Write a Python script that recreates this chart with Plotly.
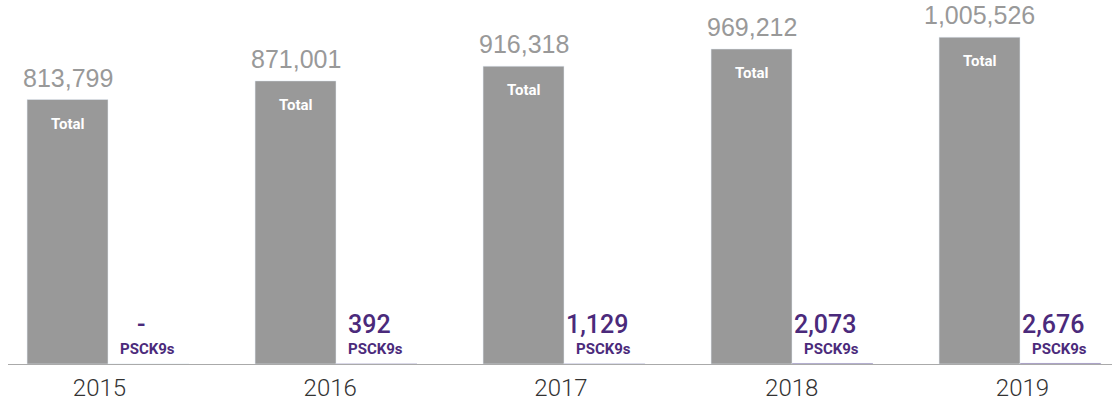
import plotly.graph_objects as go

years = ["2015", "2016", "2017", "2018", "2019"]
total = [813799, 871001, 916318, 969212, 1005526]
psck9s = [0, 392, 1129, 2073, 2676]
total_labels = ["813,799", "871,001", "916,318", "969,212", "1,005,526"]
psck9s_labels = ["-", "392", "1,129", "2,073", "2,676"]

GRAY = "#999999"
PURPLE = "#4B2A7B"
BARGAP = 0.29
half = (1 - BARGAP) / 4  # offset of each bar centre from the category centre

xs = list(range(len(years)))

fig = go.Figure()
fig.add_trace(go.Bar(x=xs, y=total, marker_color=GRAY, name="Total",
                     hoverinfo="skip"))
fig.add_trace(go.Bar(x=xs, y=psck9s, marker_color=PURPLE, name="PSCK9s",
                     hoverinfo="skip"))
# invisible carrier for the year-label axis
fig.add_trace(go.Scatter(x=xs, y=[0] * len(xs), xaxis="x2", mode="markers",
                         marker=dict(opacity=0), hoverinfo="skip",
                         showlegend=False))

ann = []
for i in xs:
    gx = i - half
    px = i + half
    ann.append(dict(x=gx, y=total[i], text=total_labels[i], showarrow=False,
                    xanchor="center", yanchor="bottom", yshift=6,
                    font=dict(family="Liberation Sans", size=25, color=GRAY)))
    ann.append(dict(x=gx, y=total[i], text="Total", showarrow=False,
                    xanchor="center", yanchor="middle", yshift=-24,
                    font=dict(family="Roboto", size=15, color="white", weight=700)))
    ann.append(dict(x=px, y=0, text=psck9s_labels[i], showarrow=False,
                    xanchor="center", yanchor="middle", yshift=40, xshift=-7,
                    font=dict(family="Roboto", size=25, color=PURPLE, weight=500)))
    ann.append(dict(x=px, y=0, text="PSCK9s", showarrow=False,
                    xanchor="center", yanchor="middle", yshift=15, xshift=-1,
                    font=dict(family="Roboto", size=15, color=PURPLE, weight=700)))

fig.update_layout(
    width=1112, height=404,
    margin=dict(l=8, r=0, t=0, b=40),
    paper_bgcolor="white", plot_bgcolor="white",
    barmode="group", bargap=BARGAP, bargroupgap=0,
    showlegend=False,
    annotations=ann,
    xaxis=dict(range=[-0.4386, 4.4035], showticklabels=False,
               showgrid=False, zeroline=False, showline=True,
               linecolor="#aaaaaa", linewidth=1, ticks="",
               fixedrange=True),
    xaxis2=dict(range=[-0.3965, 4.3879], overlaying="x", anchor="y",
                side="bottom", tickvals=xs, ticktext=years,
                showgrid=False, zeroline=False, showline=False, ticks="",
                ticklabelstandoff=7,
                tickfont=dict(family="Roboto", size=24, color="#333333", weight=300),
                fixedrange=True),
    yaxis=dict(range=[0, 1120000], visible=False, fixedrange=True),
)

fig.write_html("out.html", config={"displayModeBar": False})
